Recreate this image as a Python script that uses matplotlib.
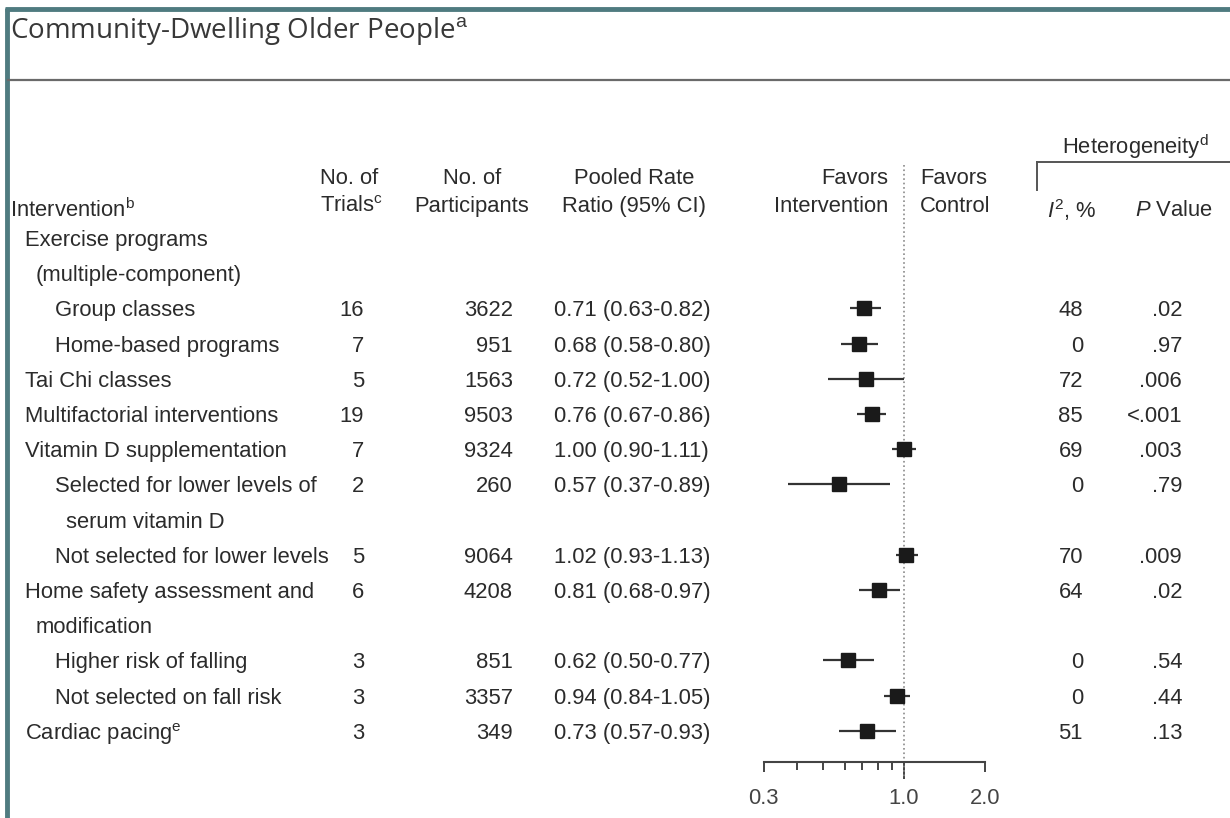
import matplotlib.pyplot as plt
from matplotlib.ticker import FixedLocator, NullFormatter

plt.rcParams['font.family'] = ['Liberation Sans', 'DejaVu Sans']
plt.rcParams['mathtext.fontset'] = 'custom'
plt.rcParams['mathtext.rm'] = 'Liberation Sans'
plt.rcParams['mathtext.it'] = 'Liberation Sans:italic'

# data
labels = ["Exercise programs\n(multiple-component)", "Group classes", "Home-based programs",
          "Tai Chi classes", "Multifactorial interventions", "Vitamin D supplementation",
          "Selected for lower levels of\nserum vitamin D", "Not selected for lower levels",
          "Home safety assessment and\nmodification", "Higher risk of falling",
          "Not selected on fall risk", "Cardiac pacing$^\\mathrm{e}$"]
level = [0, 1, 1, 0, 0, 0, 1, 1, 0, 1, 1, 0]
trials = [None, 16, 7, 5, 19, 7, 2, 5, 6, 3, 3, 3]
participants = [None, 3622, 951, 1563, 9503, 9324, 260, 9064, 4208, 851, 3357, 349]
rr = [None, 0.71, 0.68, 0.72, 0.76, 1.00, 0.57, 1.02, 0.81, 0.62, 0.94, 0.73]
lo = [None, 0.63, 0.58, 0.52, 0.67, 0.90, 0.37, 0.93, 0.68, 0.50, 0.84, 0.57]
hi = [None, 0.82, 0.80, 1.00, 0.86, 1.11, 0.89, 1.13, 0.97, 0.77, 1.05, 0.93]
i2 = [None, 48, 0, 72, 85, 69, 0, 70, 64, 0, 0, 51]
pval = [None, ".02", ".97", ".006", "<.001", ".003", ".79", ".009", ".02", ".54", ".44", ".13"]

W, H = 1230, 818
fig = plt.figure(figsize=(W / 100, H / 100), dpi=100)
ax = fig.add_axes([0, 0, 1, 1])
ax.set_xlim(0, W)
ax.set_ylim(H, 0)
ax.axis('off')

txt = '#2b2b2b'
fs = 15.8

# frame
ax.plot([7, 7], [8, H], color='#4f7b80', lw=3.5, solid_capstyle='butt')
ax.plot([5, W], [9, 9], color='#4f7b80', lw=3.5, solid_capstyle='butt')
ax.plot([8, W], [80, 80], color='#6a6a6a', lw=1.6)

ax.text(10, 31, "Community-Dwelling Older People$^\\mathrm{a}$", fontsize=20, color='#383838',
        va='center', ha='left', family=['Open Sans', 'DejaVu Sans'])

# headers
hy = 192.5
ax.text(10, 208, "Intervention$^\\mathrm{b}$", fontsize=fs, color=txt, va='center_baseline')
ax.text(320, hy, "No. of\nTrials$^\\mathrm{c}$", fontsize=fs, color=txt, va='center', ha='left', linespacing=1.4)
ax.text(472, hy, "No. of\nParticipants", fontsize=fs, color=txt, va='center', ha='center',
        multialignment='center', linespacing=1.4)
ax.text(634, hy, "Pooled Rate\nRatio (95% CI)", fontsize=fs, color=txt, va='center', ha='center',
        multialignment='center', linespacing=1.4)
ax.text(888, hy, "Favors\nIntervention", fontsize=fs, color=txt, va='center', ha='right',
        multialignment='right', linespacing=1.4)
ax.text(920, hy, "Favors\nControl", fontsize=fs, color=txt, va='center', ha='left', linespacing=1.4)
ax.text(1135, 147, "Heterogeneity$^\\mathrm{d}$", fontsize=fs, color=txt, va='center', ha='center')
ax.plot([1037, W], [162, 162], color='#555555', lw=1.4)
ax.plot([1037, 1037], [162, 190], color='#555555', lw=1.4)
ax.text(1047, 208, "$\\mathit{I}^{2}$, %", fontsize=fs, color=txt, va='center_baseline')
ax.text(1135, 208, "$\\mathit{P}$ Value", fontsize=fs, color=txt, va='center_baseline')

# forest axes: log scale, same pixel y units
fx0, fx1 = 740, 1010
axis_y = 762
fax = fig.add_axes([fx0 / W, (H - axis_y) / H, (fx1 - fx0) / W, axis_y / H])
fax.set_xscale('log')
fax.set_xlim(10 ** ((fx0 - 904) / 268), 10 ** ((fx1 - 904) / 268))
fax.set_ylim(axis_y, 0)
fax.patch.set_alpha(0)
for s in ['left', 'right', 'top']:
    fax.spines[s].set_visible(False)
fax.spines['bottom'].set_bounds(0.3, 2.0)
fax.spines['bottom'].set_color('#444444')
fax.spines['bottom'].set_linewidth(1.5)
fax.set_yticks([])
fax.xaxis.set_major_locator(FixedLocator([0.3, 1.0, 2.0]))
fax.set_xticklabels(["0.3", "1.0", "2.0"])
fax.xaxis.set_minor_locator(FixedLocator([0.4, 0.5, 0.6, 0.7, 0.8, 0.9]))
fax.xaxis.set_minor_formatter(NullFormatter())
fax.tick_params(axis='x', which='major', direction='out', length=7, width=1.4, color='#444444',
                labelsize=fs, labelcolor='#444444', pad=12)
fax.tick_params(axis='x', which='minor', direction='out', length=6, width=1.4, color='#444444')
fax.xaxis.get_major_ticks()[1].tick1line.set_markersize(12)
fax.plot([1.0, 1.0], [165, 778], color='#8a8a8a', lw=1.2, ls=':', clip_on=False)

# rows
line_h = 35.2
k = 0
for i, lab in enumerate(labels):
    y = 238 + line_h * k
    base = 25 + 30 * level[i]
    for j, part in enumerate(lab.split("\n")):
        ax.text(base + (11 if j else 0), y + line_h * j, part, fontsize=fs, color=txt,
                va='center_baseline', ha='left')
    if trials[i] is not None:
        ax.text(364, y, str(trials[i]), fontsize=fs, color=txt, va='center_baseline', ha='right')
        ax.text(513, y, str(participants[i]), fontsize=fs, color=txt, va='center_baseline', ha='right')
        ax.text(554, y, f"{rr[i]:.2f} ({lo[i]:.2f}-{hi[i]:.2f})", fontsize=fs, color=txt,
                va='center_baseline', ha='left')
        ax.text(1083, y, str(i2[i]), fontsize=fs, color=txt, va='center_baseline', ha='right')
        ax.text(1182, y, pval[i], fontsize=fs, color=txt, va='center_baseline', ha='right')
        fax.plot([lo[i], hi[i]], [y, y], color='#333333', lw=1.6, solid_capstyle='butt')
        fax.plot([rr[i]], [y], marker='s', ms=10, color='#1a1a1a')
    k += lab.count("\n") + 1

fig.savefig("out.png", dpi=100)
